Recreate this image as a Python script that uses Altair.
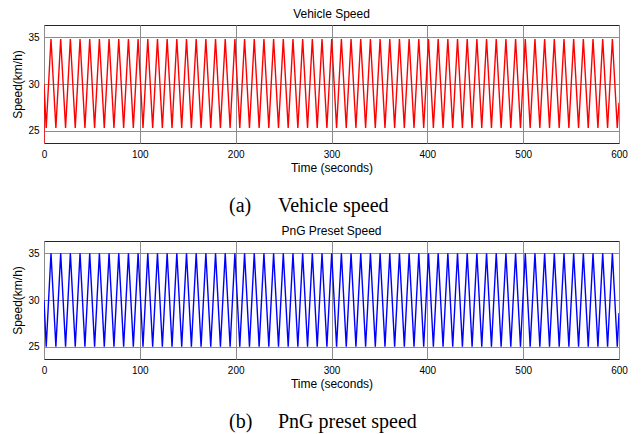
import altair as alt
import pandas as pd

# Vertex times (seconds)
peak_times = [7.3, 17.4, 27.5, 37.6, 47.7, 57.8, 67.9, 78.0, 88.1, 98.2,
              108.3, 118.4, 128.5, 138.6, 148.7, 158.8, 168.9, 179.0, 189.1, 199.2,
              209.3, 219.4, 229.5, 239.6, 249.7, 259.8, 269.9, 280.0, 290.1, 300.2,
              310.3, 320.4, 330.5, 340.6, 350.7, 360.8, 370.9, 381.0, 391.1, 401.2,
              411.3, 421.4, 431.5, 441.6, 451.7, 461.8, 471.9, 482.0, 492.1, 502.2,
              512.3, 522.4, 532.5, 542.6, 552.7, 562.8, 572.9, 583.0, 593.1]
trough_times = [2.3, 12.4, 22.5, 32.6, 42.7, 52.8, 62.9, 73.0, 83.1, 93.2,
                103.3, 113.4, 123.5, 133.6, 143.7, 153.8, 163.9, 174.0, 184.1, 194.2,
                204.3, 214.4, 224.5, 234.6, 244.7, 254.8, 264.9, 275.0, 285.1, 295.2,
                305.3, 315.4, 325.5, 335.6, 345.7, 355.8, 365.9, 376.0, 386.1, 396.2,
                406.3, 416.4, 426.5, 436.6, 446.7, 456.8, 466.9, 477.0, 487.1, 497.2,
                507.3, 517.4, 527.5, 537.6, 547.7, 557.8, 567.9, 578.0, 588.1, 598.2]

# Vehicle speed (red)
red_start_t = [0, 0]
red_start_v = [0.0, 30.0]
red_peak = 34.8
red_trough = 25.3
red_end = 28.0

# PnG preset speed (blue)
blue_start_t = [0]
blue_start_v = [30.0]
blue_peak = 35.0
blue_trough = 25.0
blue_end = 28.6

end_time = 600
x_ticks = [0, 100, 200, 300, 400, 500, 600]
y_ticks = [25, 30, 35]


def build(start_t, start_v, peak, trough, end_val):
    verts = sorted([(t, trough) for t in trough_times] + [(t, peak) for t in peak_times])
    ts = list(start_t) + [v[0] for v in verts] + [end_time]
    vs = list(start_v) + [v[1] for v in verts] + [end_val]
    return pd.DataFrame({"t": ts, "v": vs, "i": list(range(len(ts)))})


red_df = build(red_start_t, red_start_v, red_peak, red_trough, red_end)
blue_df = build(blue_start_t, blue_start_v, blue_peak, blue_trough, blue_end)

W, H = 575, 118
SANS = "Liberation Sans"
SERIF = "Liberation Serif"
GRID = "#8c8c8c"


def axis(values, title, lp, tp):
    return alt.Axis(values=values, title=title, format="d",
                    grid=True, gridColor=GRID, gridWidth=1, gridOpacity=1,
                    ticks=False, domain=False, labelFlush=False,
                    labelFont=SANS, labelFontSize=10, labelColor="black",
                    titleFont=SANS, titleFontSize=12, titleColor="black",
                    titleFontWeight="normal",
                    labelPadding=lp, titlePadding=tp)


def panel(df, color, title, tag, caption, title_offset):
    line = alt.Chart(df).mark_line(color=color, strokeWidth=1.4, clip=True).encode(
        x=alt.X("t:Q", scale=alt.Scale(domain=[0, 600], nice=False),
                axis=axis(x_ticks, "Time (seconds)", 6, 3)),
        y=alt.Y("v:Q", scale=alt.Scale(domain=[23.7, 36.3], nice=False, zero=False),
                axis=axis(y_ticks, "Speed(km/h)", 5, 3)),
        order="i:Q",
    )
    cap = pd.DataFrame({"tag": [tag], "cap": [caption]})
    tag_text = alt.Chart(cap).mark_text(font=SERIF, fontSize=20, align="left",
                                        baseline="alphabetic", color="black").encode(
        x=alt.value(185), y=alt.value(187), text="tag:N")
    cap_text = alt.Chart(cap).mark_text(font=SERIF, fontSize=20, align="left",
                                        baseline="alphabetic", color="black").encode(
        x=alt.value(234), y=alt.value(187), text="cap:N")
    return alt.layer(line, tag_text, cap_text).properties(
        width=W, height=H,
        title=alt.TitleParams(title, font=SANS, fontSize=12, fontWeight="normal",
                              color="black", offset=title_offset),
    )


top = panel(red_df, "#ff0000", "Vehicle Speed", "(a)", "Vehicle speed", 4)
bottom = panel(blue_df, "#0000ff", "PnG Preset Speed", "(b)", "PnG preset speed", 3)

chart = alt.vconcat(top, bottom, spacing=7).properties(
    padding={"left": 3, "top": -1, "right": 5, "bottom": 0},
    background="white",
).configure_view(
    stroke="#262626", strokeWidth=1
)

chart.save("out.html", embed_options={"renderer": "svg", "actions": False})
